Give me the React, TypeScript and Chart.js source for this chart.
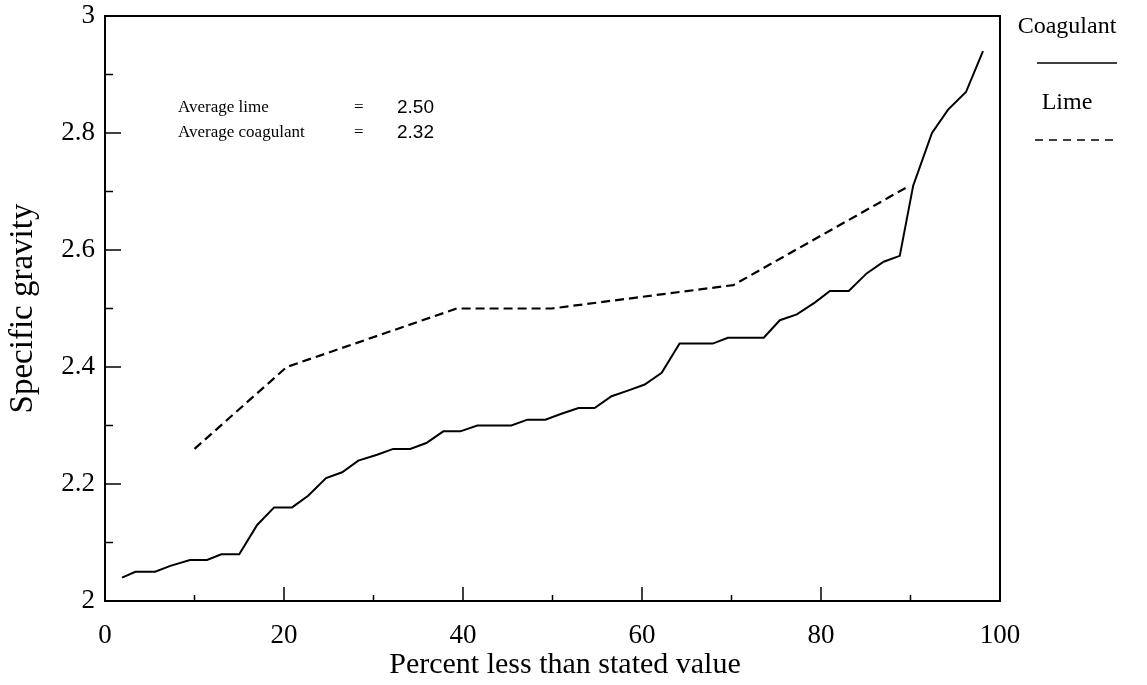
import { useEffect, useRef } from "react";
import { Chart, registerables } from "chart.js";

Chart.register(...registerables);

// ---- data ----
const coagulantX = [
  1.9, 3.4, 5.6, 7.3, 9.5, 11.4, 13.0, 15.0, 17.0, 18.9, 20.9, 22.7, 24.7,
  26.5, 28.3, 30.4, 32.2, 34.1, 35.9, 37.8, 39.7, 41.6, 43.6, 45.4, 47.2,
  49.2, 51.0, 52.9, 54.7, 56.6, 58.5, 60.3, 62.2, 64.2, 65.9, 67.9, 69.6,
  71.6, 73.6, 75.4, 77.3, 79.3, 81.0, 83.1, 85.1, 87.0, 88.8, 90.3, 92.4,
  94.2, 96.2, 98.1,
];
const coagulantY = [
  2.04, 2.05, 2.05, 2.06, 2.07, 2.07, 2.08, 2.08, 2.13, 2.16, 2.16, 2.18,
  2.21, 2.22, 2.24, 2.25, 2.26, 2.26, 2.27, 2.29, 2.29, 2.3, 2.3, 2.3, 2.31,
  2.31, 2.32, 2.33, 2.33, 2.35, 2.36, 2.37, 2.39, 2.44, 2.44, 2.44, 2.45,
  2.45, 2.45, 2.48, 2.49, 2.51, 2.53, 2.53, 2.56, 2.58, 2.59, 2.71, 2.8,
  2.84, 2.87, 2.94,
];
const limeX = [10, 20.3, 39.3, 49.9, 70.2, 89.9];
const limeY = [2.26, 2.4, 2.5, 2.5, 2.54, 2.71];

const seriesNames = ["Coagulant", "Lime"];
const averageNames = ["Average lime", "Average coagulant"];
const averageValues = ["2.50", "2.32"];

const xTickLabels = ["0", "20", "40", "60", "80", "100"];
const yTickLabels = ["2", "2.2", "2.4", "2.6", "2.8", "3"];

const xAxisTitle = "Percent less than stated value";
const yAxisTitle = "Specific gravity";

const FONT = "'Liberation Serif', 'DejaVu Serif', serif";
const SANS = "'Liberation Sans', Arial, sans-serif";

const framePlugin = {
  id: "frameAndTicks",
  afterDraw(chart: any) {
    const { ctx, chartArea } = chart;
    const xs = chart.scales.x;
    const ys = chart.scales.y;
    ctx.save();
    ctx.strokeStyle = "#000";
    ctx.lineWidth = 2;
    ctx.setLineDash([]);
    ctx.strokeRect(
      chartArea.left,
      chartArea.top,
      chartArea.right - chartArea.left,
      chartArea.bottom - chartArea.top
    );
    // inward ticks
    ctx.lineWidth = 1.5;
    xs.ticks.forEach((t: any) => {
      const px = xs.getPixelForValue(t.value);
      const major = Math.round(t.value) % 20 === 0;
      const len = major ? 14 : 6;
      if (t.value <= 0 || t.value >= 100) return;
      ctx.beginPath();
      ctx.moveTo(px, chartArea.bottom);
      ctx.lineTo(px, chartArea.bottom - len);
      ctx.stroke();
    });
    ys.ticks.forEach((t: any) => {
      const py = ys.getPixelForValue(t.value);
      const major = Math.round(t.value * 10) % 2 === 0;
      const len = major ? 16 : 8;
      if (t.value <= 2.001 || t.value >= 2.999) return;
      ctx.beginPath();
      ctx.moveTo(chartArea.left, py);
      ctx.lineTo(chartArea.left + len, py);
      ctx.stroke();
    });

    ctx.fillStyle = "#000";
    ctx.textAlign = "center";
    ctx.textBaseline = "middle";

    // x axis title
    ctx.font = `30px ${FONT}`;
    ctx.fillText(xAxisTitle, 565, 665);

    // legend (outside right)
    ctx.font = `24px ${FONT}`;
    const lx = chartArea.right + 67;
    ctx.fillText(seriesNames[0], lx, 27);
    ctx.lineWidth = 1.5;
    ctx.beginPath();
    ctx.moveTo(lx - 30, 63);
    ctx.lineTo(lx + 50, 63);
    ctx.stroke();
    ctx.fillText(seriesNames[1], lx, 103);
    ctx.setLineDash([8, 6]);
    ctx.beginPath();
    ctx.moveTo(lx - 32, 140);
    ctx.lineTo(lx + 46, 140);
    ctx.stroke();
    ctx.setLineDash([]);

    // averages annotation
    ctx.textAlign = "left";
    averageNames.forEach((name, i) => {
      const y = 108 + i * 25;
      ctx.font = `17px ${FONT}`;
      ctx.fillText(name, 178, y);
      ctx.fillText("=", 354, y);
      ctx.font = `19px ${SANS}`;
      ctx.fillText(averageValues[i], 397, y);
    });
    ctx.restore();
  },
};

export default function App() {
  const ref = useRef<HTMLCanvasElement | null>(null);
  useEffect(() => {
    if (!ref.current) return;
    const chart = new Chart(ref.current, {
      type: "line",
      data: {
        datasets: [
          {
            label: seriesNames[0],
            data: coagulantX.map((x, i) => ({ x, y: coagulantY[i] })),
            borderColor: "#000",
            borderWidth: 2,
            pointRadius: 0,
            tension: 0,
            fill: false,
          },
          {
            label: seriesNames[1],
            data: limeX.map((x, i) => ({ x, y: limeY[i] })),
            borderColor: "#000",
            borderWidth: 2.2,
            borderDash: [9, 5],
            pointRadius: 0,
            tension: 0,
            fill: false,
          },
        ],
      },
      options: {
        animation: false,
        responsive: false,
        devicePixelRatio: 1,
        layout: { padding: { left: 0, right: 147, top: 16, bottom: 0 } },
        plugins: {
          legend: { display: false },
          tooltip: { enabled: false },
        },
        scales: {
          x: {
            type: "linear",
            min: 0,
            max: 100,
            border: { display: false },
            grid: { display: false, drawTicks: false },
            ticks: {
              stepSize: 10,
              autoSkip: false,
              maxRotation: 0,
              padding: 19,
              color: "#000",
              font: { family: FONT, size: 27 },
              callback: (v: any) => {
                const idx = [0, 20, 40, 60, 80, 100].indexOf(Math.round(v));
                return idx >= 0 ? xTickLabels[idx] : "";
              },
            },
            title: { display: false },
            afterFit: (s: any) => {
              s.height = 84;
              s.paddingLeft = 0;
              s.paddingRight = 0;
            },
          },
          y: {
            type: "linear",
            min: 2,
            max: 3,
            border: { display: false },
            grid: { display: false, drawTicks: false },
            ticks: {
              stepSize: 0.1,
              autoSkip: false,
              padding: 10,
              color: "#000",
              font: { family: FONT, size: 27 },
              callback: (v: any) => {
                const k = Math.round(Number(v) * 10);
                if (k % 2 !== 0) return "";
                return yTickLabels[(k - 20) / 2];
              },
            },
            title: {
              display: true,
              text: yAxisTitle,
              color: "#000",
              font: { family: FONT, size: 33 },
              padding: { top: 4, bottom: 4 },
            },
            afterFit: (s: any) => {
              s.width = 105;
              s.paddingTop = 0;
              s.paddingBottom = 0;
            },
          },
        },
      },
      plugins: [framePlugin],
    });
    return () => chart.destroy();
  }, []);
  return (
    <div style={{ position: "absolute", left: 0, top: 0, width: 1147, height: 685, background: "#fff" }}>
      <canvas ref={ref} width={1147} height={685} style={{ display: "block" }} />
    </div>
  );
}
